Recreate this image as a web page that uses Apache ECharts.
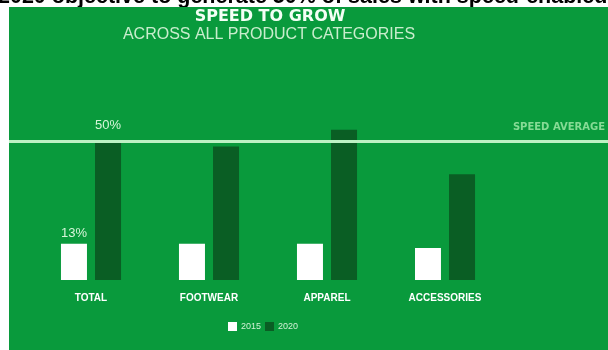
<!DOCTYPE html>
<html>
<head>
<meta charset="utf-8">
<script src="https://cdn.jsdelivr.net/npm/echarts@6/dist/echarts.min.js"></script>
<style>
  html, body { margin: 0; padding: 0; background: #fff; }
  #chart { width: 608px; height: 350px; }
</style>
</head>
<body>
<div id="chart"></div>
<script>
// data
var categories = ["TOTAL", "FOOTWEAR", "APPAREL", "ACCESSORIES"];
var seriesNames = ["2015", "2020"];
var values2015 = [13, 13, 13, 11.5];
var values2020 = [50, 48, 54, 38];
var speedAverage = 50;

var narrow = "'Liberation Sans Narrow', 'Liberation Sans', Arial, sans-serif";
var green = "#099a3c";

// only the first bar of each series carries its % label
function withLabel(values) {
  return values.map(function (v, i) {
    return { value: v, label: { show: i === 0 } };
  });
}

var chart = echarts.init(document.getElementById("chart"));
chart.setOption({
  backgroundColor: "#fff",
  animation: false,
  graphic: [
    {
      type: "text",
      left: -2,
      top: -14,
      style: {
        text: "2020 objective to generate 50% of sales with speed-enabled",
        font: "bold 21.5px 'Liberation Sans', Arial, sans-serif",
        fill: "#000"
      }
    },
    {
      type: "rect",
      shape: { x: 9, y: 7, width: 600, height: 343 },
      style: { fill: green }
    },
    {
      type: "text",
      x: 270,
      y: 17,
      style: {
        text: "SPEED TO GROW",
        font: "bold 16px 'DejaVu Sans', sans-serif",
        fill: "#f4fff5",
        align: "center",
        verticalAlign: "middle"
      }
    },
    {
      type: "text",
      x: 269,
      y: 35,
      style: {
        text: "ACROSS ALL PRODUCT CATEGORIES",
        font: "16px 'Liberation Sans', sans-serif",
        fill: "#c9edcd",
        align: "center",
        verticalAlign: "middle"
      }
    }
  ],
  legend: {
    left: 228,
    top: 322,
    padding: 0,
    itemWidth: 9,
    itemHeight: 9,
    itemGap: 4,
    icon: "rect",
    textStyle: { color: "#d2f0d5", fontSize: 9, fontFamily: narrow, padding: [0, 0, 0, -1] },
    data: seriesNames
  },
  grid: [
    { left: 32, right: 104, top: 113, bottom: 70 },
    { left: 9, right: 0, top: 113, bottom: 70 }
  ],
  xAxis: [
    {
      type: "category",
      gridIndex: 0,
      data: categories,
      axisLine: { show: false },
      axisTick: { show: false },
      axisLabel: {
        color: "#ffffff",
        fontFamily: narrow,
        fontWeight: "bold",
        fontSize: 10,
        margin: 13
      }
    },
    { type: "value", gridIndex: 1, min: 0, max: 1, show: false }
  ],
  yAxis: [
    { type: "value", gridIndex: 0, min: 0, max: 60, show: false },
    { type: "value", gridIndex: 1, min: 0, max: 60, show: false }
  ],
  series: [
    {
      name: seriesNames[0],
      type: "bar",
      xAxisIndex: 0,
      yAxisIndex: 0,
      barWidth: 26,
      barGap: "31%",
      itemStyle: { color: "#ffffff" },
      label: {
        position: "top",
        distance: 4,
        formatter: "{c}%",
        color: "#d6f5d8",
        fontFamily: narrow,
        fontSize: 13
      },
      data: withLabel(values2015)
    },
    {
      name: seriesNames[1],
      type: "bar",
      xAxisIndex: 0,
      yAxisIndex: 0,
      barWidth: 26,
      barGap: "31%",
      itemStyle: { color: "#0a5e24" },
      label: {
        position: "top",
        distance: 9,
        formatter: "{c}%",
        color: "#d6f5d8",
        fontFamily: narrow,
        fontSize: 13
      },
      data: withLabel(values2020)
    },
    {
      name: "speed average",
      type: "line",
      xAxisIndex: 1,
      yAxisIndex: 1,
      data: [],
      z: 5,
      markLine: {
        silent: true,
        symbol: ["none", "none"],
        lineStyle: { color: "#bdf2c4", width: 3, type: "solid" },
        label: {
          position: "insideEndTop",
          formatter: "SPEED AVERAGE",
          color: "#86db95",
          fontFamily: "'DejaVu Sans', sans-serif",
          fontWeight: "bold",
          fontSize: 10,
          distance: [3, 8]
        },
        data: [{ yAxis: speedAverage }]
      }
    }
  ]
});
window.addEventListener("resize", function () {
  chart.resize();
});
</script>
</body>
</html>
